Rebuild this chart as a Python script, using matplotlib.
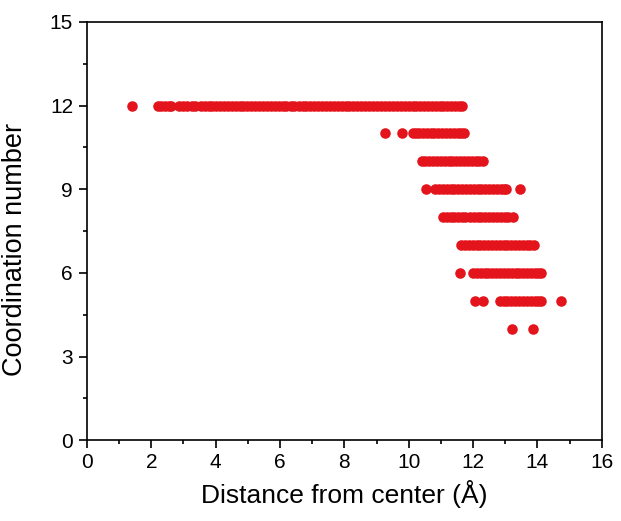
import matplotlib
matplotlib.use("Agg")
import matplotlib.pyplot as plt
from matplotlib.ticker import MultipleLocator

plt.rcParams["font.family"] = ["Liberation Sans", "DejaVu Sans"]

# distance from center (A) of atoms, grouped by coordination number
cn12 = [1.40, 2.20, 2.30, 2.42, 2.55, 2.60, 2.86, 2.98, 3.10, 3.25, 3.36,
        3.55, 3.66, 3.78, 3.90, 4.02, 4.12, 4.25, 4.38, 4.50, 4.62, 4.75,
        4.86, 4.98, 5.10, 5.22, 5.35, 5.47, 5.60, 5.72, 5.84, 5.96, 6.08,
        6.20, 6.33, 6.45, 6.58, 6.70, 6.82, 6.94, 7.06, 7.18, 7.30, 7.43,
        7.55, 7.68, 7.80, 7.92, 8.04, 8.16, 8.28, 8.40, 8.52, 8.65, 8.78,
        8.90, 9.02, 9.15, 9.27, 9.40, 9.52, 9.64, 9.76, 9.88, 10.00, 10.12,
        10.24, 10.36, 10.48, 10.60, 10.72, 10.84, 10.96, 11.08, 11.20,
        11.32, 11.44, 11.55, 11.66]
cn11 = [9.25, 9.78, 10.12, 10.22, 10.33, 10.45, 10.56, 10.68, 10.80,
        10.92, 11.04, 11.16, 11.28, 11.40, 11.52, 11.63, 11.73]
cn10 = [10.40, 10.52, 10.64, 10.76, 10.88, 11.00, 11.12, 11.24, 11.36,
        11.48, 11.60, 11.72, 11.84, 11.96, 12.08, 12.19, 12.30]
cn9 = [10.55, 10.82, 10.94, 11.06, 11.18, 11.30, 11.42, 11.54, 11.66,
       11.78, 11.90, 12.02, 12.14, 12.26, 12.38, 12.50, 12.62, 12.74,
       12.86, 12.96, 13.03, 13.45]
cn8 = [11.07, 11.18, 11.30, 11.42, 11.54, 11.66, 11.76, 11.90, 12.02,
       12.14, 12.26, 12.38, 12.50, 12.62, 12.74, 12.86, 12.98, 13.10,
       13.24]
cn7 = [11.63, 11.75, 11.87, 11.99, 12.11, 12.23, 12.35, 12.47, 12.59,
       12.71, 12.83, 12.95, 13.07, 13.19, 13.31, 13.43, 13.55, 13.67,
       13.76, 13.90]
cn6 = [11.58, 12.00, 12.12, 12.24, 12.36, 12.48, 12.60, 12.72, 12.84,
       12.96, 13.08, 13.20, 13.32, 13.44, 13.56, 13.68, 13.80, 13.92,
       14.02, 14.12]
cn5 = [12.05, 12.30, 12.83, 12.95, 13.07, 13.19, 13.31, 13.43, 13.55,
       13.67, 13.79, 13.91, 14.02, 14.12, 14.74]
cn4 = [13.22, 13.86]

groups = [(12, cn12), (11, cn11), (10, cn10), (9, cn9), (8, cn8),
          (7, cn7), (6, cn6), (5, cn5), (4, cn4)]

fig = plt.figure(figsize=(6.21, 5.21), dpi=100)
ax = fig.add_axes([0.140, 0.155, 0.829, 0.803])

for cn, xs in groups:
    ax.plot(xs, [cn] * len(xs), "o", color="#e3141c", markersize=7.6,
            markeredgewidth=0, linestyle="none")

ax.set_xlim(0, 16)
ax.set_ylim(0, 15)
ax.xaxis.set_major_locator(MultipleLocator(2))
ax.xaxis.set_minor_locator(MultipleLocator(1))
ax.yaxis.set_major_locator(MultipleLocator(3))
ax.yaxis.set_minor_locator(MultipleLocator(1.5))
ax.tick_params(which="both", direction="out", top=False, right=False,
               labelsize=15, width=1.2)
ax.tick_params(axis="y", pad=4)
ax.tick_params(axis="x", pad=3)
ax.tick_params(which="major", length=6)
ax.tick_params(which="minor", length=3)
for s in ax.spines.values():
    s.set_linewidth(1.2)

ax.set_xlabel("Distance from center (Å)", fontsize=19, labelpad=6)
ax.set_ylabel("Coordination number", fontsize=19.5)
ax.yaxis.set_label_coords(-0.115, 0.455)

plt.savefig("out.png", dpi=100)
plt.close()
